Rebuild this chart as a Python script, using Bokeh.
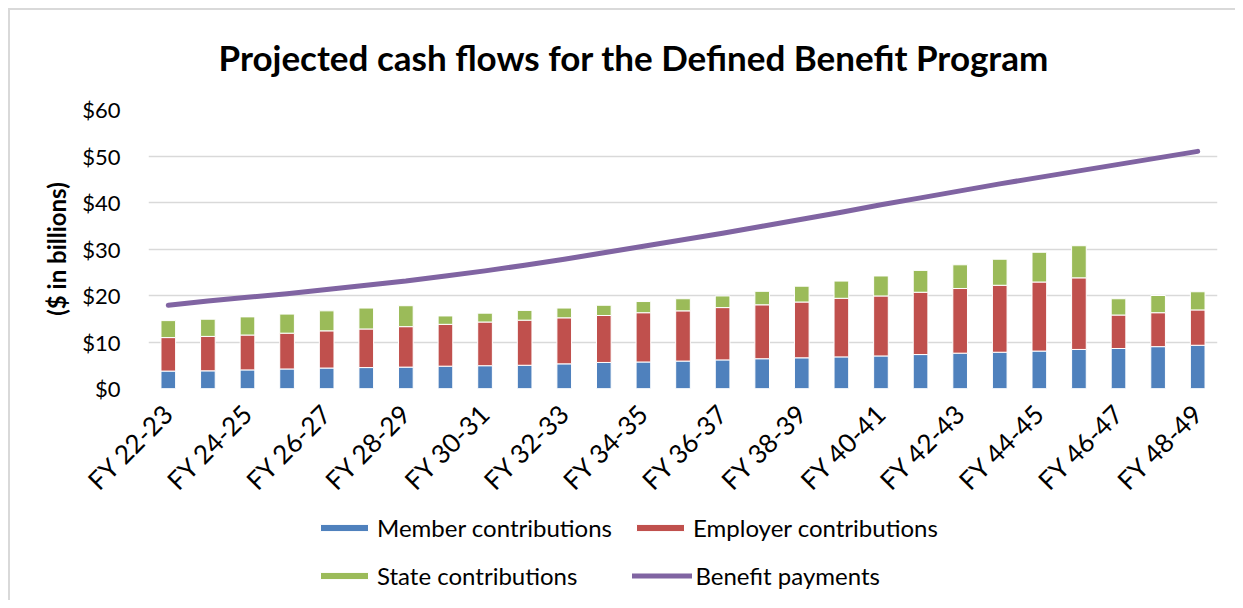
import numpy as np
from bokeh.plotting import figure
from bokeh.layouts import column
from bokeh.models import (ColumnDataSource, Range1d, FixedTicker, NumeralTickFormatter,
                          Legend, LegendItem)
from bokeh.embed import file_html
from bokeh.resources import INLINE

categories = ["FY 22-23", "FY 23-24", "FY 24-25", "FY 25-26", "FY 26-27", "FY 27-28",
              "FY 28-29", "FY 29-30", "FY 30-31", "FY 31-32", "FY 32-33", "FY 33-34",
              "FY 34-35", "FY 35-36", "FY 36-37", "FY 37-38", "FY 38-39", "FY 39-40",
              "FY 40-41", "FY 41-42", "FY 42-43", "FY 43-44", "FY 44-45", "FY 45-46",
              "FY 46-47", "FY 47-48", "FY 48-49"]
member = [3.75, 3.8, 4.0, 4.2, 4.4, 4.5, 4.6, 4.8, 4.9, 5.0, 5.3, 5.6, 5.7, 5.9,
          6.15, 6.4, 6.6, 6.8, 7.0, 7.3, 7.6, 7.8, 8.05, 8.4, 8.6, 9.0, 9.3]
employer = [7.2, 7.4, 7.5, 7.7, 8.0, 8.3, 8.7, 9.0, 9.4, 9.7, 9.9, 10.1, 10.6, 10.8,
            11.25, 11.6, 12.0, 12.6, 12.9, 13.4, 13.9, 14.4, 14.85, 15.4, 7.2, 7.3, 7.6]
state = [3.65, 3.7, 3.9, 4.1, 4.3, 4.5, 4.5, 1.8, 1.9, 2.1, 2.1, 2.2, 2.4, 2.6,
         2.5, 2.9, 3.4, 3.7, 4.3, 4.7, 5.1, 5.6, 6.4, 6.9, 3.5, 3.7, 3.9]
benefit = [17.9, 18.8, 19.6, 20.4, 21.3, 22.2, 23.1, 24.2, 25.3, 26.5, 27.8, 29.2,
           30.6, 32.0, 33.4, 34.9, 36.4, 37.9, 39.5, 41.0, 42.5, 44.0, 45.4, 46.8,
           48.2, 49.6, 51.0]
y_ticks = [0, 10, 20, 30, 40, 50, 60]
series_names = ["Member contributions", "Employer contributions", "State contributions",
                "Benefit payments"]
bar_colors = ["#4F81BD", "#C0504D", "#9BBB59"]
line_color = "#8064A2"

FONT = "Lato"
x = list(range(len(categories)))
src = ColumnDataSource(dict(x=x, member=member, employer=employer, state=state,
                            benefit=benefit))

p = figure(width=1235, height=510, output_backend="svg", toolbar_location=None,
           x_range=Range1d(-0.5, len(categories) - 0.5), y_range=Range1d(0, 60),
           min_border_left=148, min_border_right=18, min_border_top=109,
           min_border_bottom=118)
p.border_fill_alpha = 0

p.title.text = "Projected cash flows for the Defined Benefit Program"
p.title.align = "left"
p.title.offset = 70
p.title.text_font = FONT
p.title.text_font_size = "35px"
p.title.text_font_style = "bold"
p.title.text_color = "#000000"
p.title.standoff = 64

bars = p.vbar_stack(["member", "employer", "state"], x="x", width=0.37,
                    color=bar_colors, line_color="white", line_width=1, source=src)
ln = p.line("x", "benefit", source=src, line_width=5, color=line_color,
            line_cap="round", line_join="round")

p.outline_line_color = None
p.xgrid.grid_line_color = None
p.ygrid.grid_line_color = "#d9d9d9"
p.ygrid.grid_line_width = 1.5

p.yaxis.ticker = FixedTicker(ticks=y_ticks)
p.yaxis.formatter = NumeralTickFormatter(format="$0")
p.yaxis.axis_line_color = None
p.yaxis.major_tick_line_color = None
p.yaxis.minor_tick_line_color = None
p.yaxis.major_label_standoff = 22
p.yaxis.major_label_text_font = FONT
p.yaxis.major_label_text_font_size = "22px"
p.yaxis.major_label_text_color = "#000000"
p.yaxis.axis_label = "($ in billions)"
p.yaxis.axis_label_text_font = FONT
p.yaxis.axis_label_text_font_size = "24px"
p.yaxis.axis_label_text_font_style = "bold"
p.yaxis.axis_label_text_color = "#000000"
p.yaxis.axis_label_standoff = 8

p.xaxis.ticker = FixedTicker(ticks=x[::2])
p.xaxis.major_label_overrides = {i: categories[i] for i in x[::2]}
p.xaxis.major_label_orientation = np.pi / 4
p.xaxis.axis_line_color = None
p.xaxis.major_tick_line_color = None
p.xaxis.minor_tick_line_color = None
p.xaxis.major_label_standoff = 14
p.xaxis.major_label_text_font = FONT
p.xaxis.major_label_text_font_size = "26px"
p.xaxis.major_label_text_color = "#000000"

# legend panel: hidden copies of the same series supply the legend glyphs
lp = figure(width=1235, height=90, output_backend="svg", toolbar_location=None,
            x_range=Range1d(0, 1), y_range=Range1d(0, 1), x_axis_type=None,
            y_axis_type=None, min_border=0)
lp.border_fill_alpha = 0
lp.background_fill_alpha = 0
lp.outline_line_color = None
lb = lp.vbar_stack(["member", "employer", "state"], x="x", width=0.37,
                   color=bar_colors, line_color="white", line_width=1, source=src,
                   visible=False)
ll = lp.line("x", "benefit", source=src, line_width=5, color=line_color,
             line_cap="round", visible=False)

legend_rows = [
    ([(series_names[0], lb[0]), (series_names[1], lb[1])], 18, (166, 58)),
    ([(series_names[2], lb[2]), (series_names[3], ll)], 55, (166, 10)),
]
for row, sp, loc in legend_rows:
    lg = Legend(items=[LegendItem(label=lab, renderers=[r]) for lab, r in row],
                location=loc, orientation="horizontal", padding=0, margin=0,
                spacing=sp, border_line_color=None, background_fill_alpha=0,
                inactive_fill_alpha=0,
                glyph_width=60, glyph_height=9, label_height=28, label_standoff=3,
                label_text_font=FONT, label_text_font_size="24px",
                label_text_color="#000000")
    lp.add_layout(lg, "center")

layout = column(p, lp, spacing=0)
layout.styles = {"box-shadow": "inset 8px 8px 0 0 #ffffff, inset 10px 10px 0 0 #d9d9d9"}

open("out.html", "w").write(file_html(layout, INLINE))
